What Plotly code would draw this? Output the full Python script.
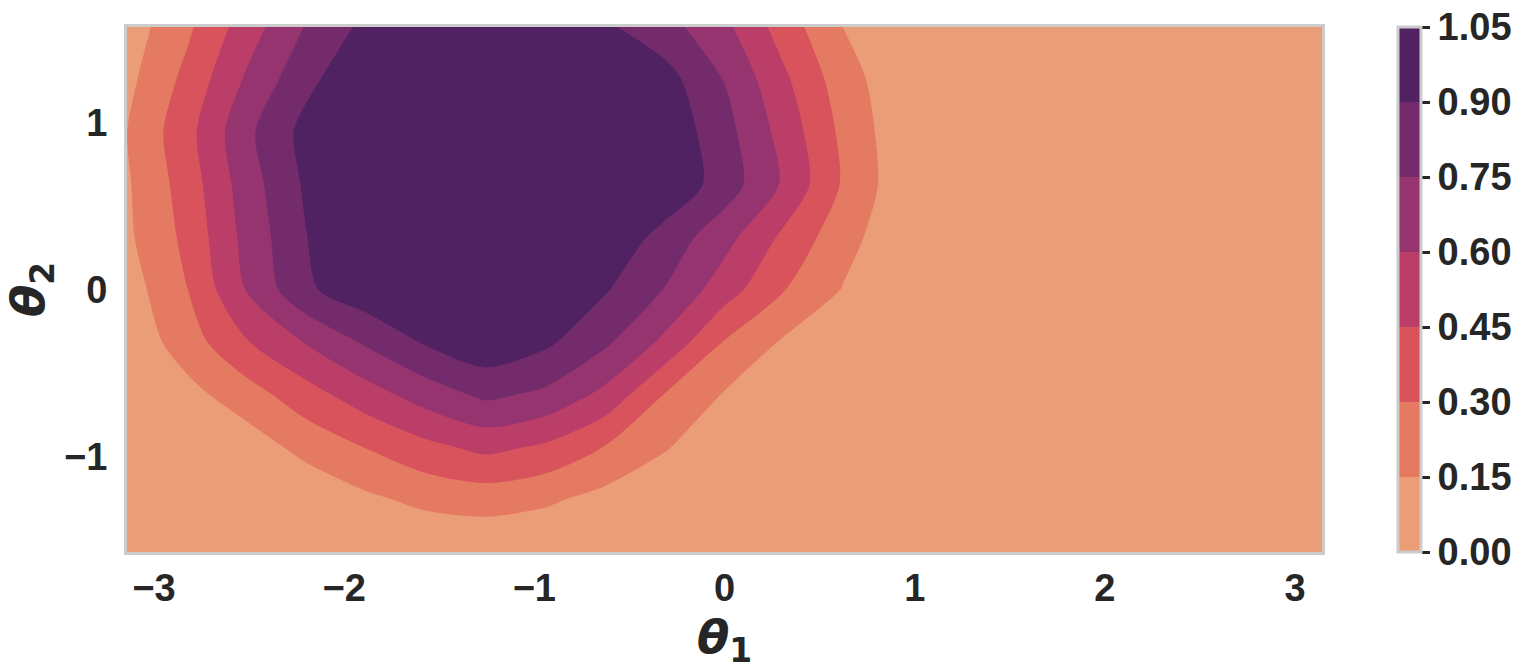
import plotly.graph_objects as go

# grid (radians)
THETA1 = [-3.1416, -2.8274, -2.5133, -2.1991, -1.885, -1.5708, -1.2566, -0.9425, -0.6283, -0.3142,
          0.0, 0.3142, 0.6283, 0.9425, 1.2566, 1.5708, 1.885, 2.1991, 2.5133, 2.8274, 3.1416]
THETA2 = [-1.5708, -1.2566, -0.9425, -0.6283, -0.3142, 0.0, 0.3142, 0.6283, 0.9425, 1.2566, 1.5708]

# values read row by row, bottom (theta2 = -pi/2) to top (theta2 = pi/2)
Z_ROW_M157 = [0.0, 0.0, 0.0, 0.0, 0.02, 0.01, 0.02, 0.01, 0.0, 0.0, 0.0, 0.0, 0.0, 0.0, 0.0, 0.0, 0.0, 0.0, 0.0, 0.0, 0.0]
Z_ROW_M126 = [0.0, 0.01, 0.02, 0.03, 0.12, 0.188, 0.213, 0.175, 0.10, 0.04, 0.03, 0.02, 0.01, 0.01, 0.01, 0.0, 0.0, 0.0, 0.0, 0.0, 0.0]
Z_ROW_M094 = [0.01, 0.03, 0.07, 0.20, 0.305, 0.41, 0.49, 0.428, 0.295, 0.1625, 0.05, 0.02, 0.02, 0.01, 0.01, 0.01, 0.0, 0.0, 0.0, 0.0, 0.0]
Z_ROW_M063 = [0.02, 0.10, 0.233, 0.389, 0.535, 0.67, 0.783, 0.72, 0.56, 0.294, 0.14, 0.05, 0.03, 0.02, 0.01, 0.01, 0.01, 0.0, 0.0, 0.0, 0.0]
Z_ROW_M031 = [0.04, 0.226, 0.44, 0.61, 0.771, 0.917, 1.01, 0.93, 0.778, 0.566, 0.291, 0.131, 0.04, 0.02, 0.02, 0.01, 0.01, 0.01, 0.0, 0.0, 0.0]
Z_ROW_000 = [0.077, 0.296, 0.608, 0.875, 1.0, 1.02, 1.03, 1.02, 0.915, 0.744, 0.52, 0.305, 0.14, 0.03, 0.02, 0.02, 0.01, 0.01, 0.0, 0.0, 0.0]
Z_ROW_P031 = [0.123, 0.336, 0.648, 0.897, 1.03, 1.04, 1.04, 1.04, 1.02, 0.847, 0.654, 0.417, 0.204, 0.04, 0.03, 0.02, 0.01, 0.01, 0.0, 0.0, 0.0]
Z_ROW_P063 = [0.133, 0.366, 0.678, 0.924, 1.03, 1.04, 1.04, 1.04, 1.04, 1.02, 0.831, 0.577, 0.278, 0.053, 0.03, 0.02, 0.01, 0.01, 0.0, 0.0, 0.0]
Z_ROW_P094 = [0.149, 0.397, 0.715, 0.95, 1.04, 1.04, 1.04, 1.04, 1.04, 1.01, 0.804, 0.542, 0.26, 0.047, 0.03, 0.02, 0.01, 0.01, 0.0, 0.0, 0.0]
Z_ROW_P126 = [0.11, 0.34, 0.62, 0.86, 1.03, 1.04, 1.04, 1.04, 1.03, 0.96, 0.744, 0.477, 0.214, 0.04, 0.03, 0.02, 0.01, 0.01, 0.0, 0.0, 0.0]
Z_ROW_P157 = [0.07, 0.27, 0.525, 0.76, 0.94, 1.0, 1.02, 1.02, 0.924, 0.806, 0.637, 0.378, 0.145, 0.05, 0.03, 0.02, 0.01, 0.01, 0.0, 0.0, 0.0]

LEVELS = [0.0, 0.15, 0.30, 0.45, 0.60, 0.75, 0.90, 1.05]
LEVEL_TEXT = ['0.00', '0.15', '0.30', '0.45', '0.60', '0.75', '0.90', '1.05']
BAND_COLORS = ['#EA9D76', '#E57A62', '#D8535C', '#BB3E68', '#963470', '#742B6C', '#502261']

X_TICKS = [-3, -2, -1, 0, 1, 2, 3]
X_TICK_TEXT = ['\u22123', '\u22122', '\u22121', '0', '1', '2', '3']
Y_TICKS = [-1, 0, 1]
Y_TICK_TEXT = ['\u22121', '0', '1']

FONTE = 'Liberation Sans, Arial, sans-serif'
FONTE_TITULO = 'DejaVu Sans, sans-serif'
COR_TEXTO = '#262626'
COR_BORDA = '#cccccc'


def escala_discreta(cores):
    n = len(cores)
    escala = []
    for i, c in enumerate(cores):
        escala.append([i / n, c])
        escala.append([(i + 1) / n, c])
    return escala


z = [Z_ROW_M157, Z_ROW_M126, Z_ROW_M094, Z_ROW_M063, Z_ROW_M031, Z_ROW_000,
     Z_ROW_P031, Z_ROW_P063, Z_ROW_P094, Z_ROW_P126, Z_ROW_P157]

fig = go.Figure(go.Contour(
    x=THETA1, y=THETA2, z=z,
    zmin=LEVELS[0], zmax=LEVELS[-1], autocontour=False,
    contours=dict(start=LEVELS[0], end=LEVELS[-1], size=0.15, coloring='fill', showlines=False),
    line=dict(width=0, smoothing=0.8),
    colorscale=escala_discreta(BAND_COLORS),
    colorbar=dict(
        thickness=23, len=1, lenmode='fraction', y=0.5, yanchor='middle',
        x=1.0636, xanchor='left', xpad=0, ypad=0,
        outlinewidth=3, outlinecolor=COR_BORDA,
        tickvals=LEVELS, ticktext=LEVEL_TEXT, ticklabeloverflow='allow',
        ticks='outside', ticklen=8, tickwidth=3, tickcolor=COR_TEXTO,
        tickfont=dict(family=FONTE, size=38, color=COR_TEXTO, weight='bold'),
    ),
    hoverinfo='skip',
))

eixo = dict(
    showgrid=False, zeroline=False, showline=True, mirror=True,
    linecolor=COR_BORDA, linewidth=3, ticks='',
    tickfont=dict(family=FONTE, size=38, color=COR_TEXTO, weight='bold'),
)

fig.update_xaxes(
    range=[-3.1416, 3.1416], tickvals=X_TICKS, ticktext=X_TICK_TEXT, ticklabelstandoff=0,
    title=dict(text='<b><i>θ</i><sub>1</sub></b>', standoff=0,
               font=dict(family=FONTE_TITULO, size=47, color=COR_TEXTO)),
    **eixo
)
fig.update_yaxes(
    range=[-1.5708, 1.5708], tickvals=Y_TICKS, ticktext=Y_TICK_TEXT, ticklabelstandoff=9,
    title=dict(text='<b><i>θ</i><sub>2</sub></b>', standoff=26,
               font=dict(family=FONTE_TITULO, size=47, color=COR_TEXTO)),
    **eixo
)

fig.update_layout(
    width=1528, height=671,
    margin=dict(l=127, r=206, t=27, b=119, autoexpand=False),
    paper_bgcolor='white', plot_bgcolor='white',
)

# drop the default page margin so the figure fills the window
fig.write_html('out.html', config={'displayModeBar': False},
               post_script="document.body.style.margin = '0';")
